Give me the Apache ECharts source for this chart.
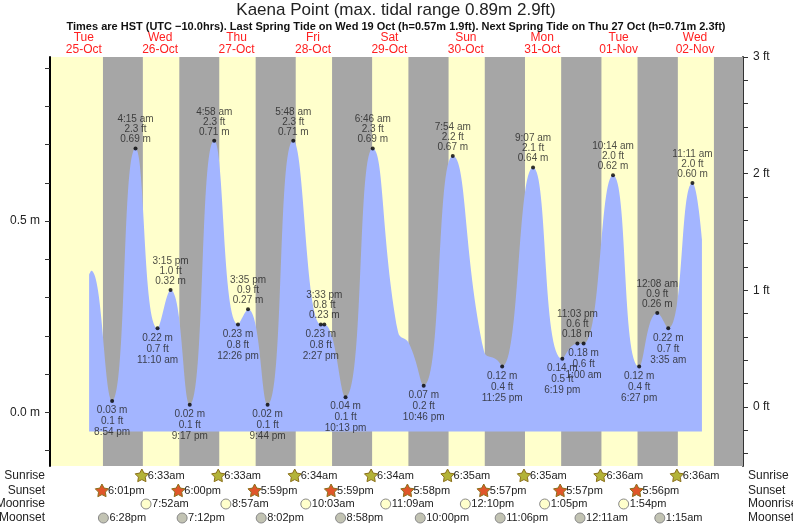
<!DOCTYPE html>
<html><head><meta charset="utf-8">
<script src="https://cdn.jsdelivr.net/npm/echarts@6/dist/echarts.min.js"></script>
<style>html,body{margin:0;padding:0;background:#fff}#c{width:793px;height:525px}</style>
</head><body><div id="c"></div>
<script>
// ---- data ----
const curveTimes = ['2022-10-25 13:40','2022-10-25 14:20','2022-10-25 20:54','2022-10-26 04:15','2022-10-26 11:10','2022-10-26 15:15','2022-10-26 21:17','2022-10-27 04:58','2022-10-27 12:26','2022-10-27 15:35','2022-10-27 21:44','2022-10-28 05:48','2022-10-28 14:27','2022-10-28 15:33','2022-10-28 22:13','2022-10-29 06:46','2022-10-29 14:43','2022-10-29 18:10','2022-10-29 22:46','2022-10-30 07:54','2022-10-30 17:43','2022-10-30 21:48','2022-10-30 23:25','2022-10-31 09:07','2022-10-31 18:19','2022-10-31 23:03','2022-11-01 01:00','2022-11-01 10:14','2022-11-01 18:27','2022-11-02 00:08','2022-11-02 03:35','2022-11-02 11:11','2022-11-02 14:10'];
const curveM = [0.36,0.37,0.03,0.69,0.22,0.32,0.02,0.71,0.23,0.27,0.02,0.71,0.23,0.23,0.04,0.69,0.21,0.18,0.07,0.67,0.16,0.137,0.12,0.64,0.14,0.18,0.18,0.62,0.12,0.26,0.22,0.60,0.453];

const highTimes = ['2022-10-26 04:15','2022-10-26 15:15','2022-10-27 04:58','2022-10-27 15:35','2022-10-28 05:48','2022-10-28 15:33','2022-10-29 06:46','2022-10-30 07:54','2022-10-31 09:07','2022-10-31 23:03','2022-11-01 10:14','2022-11-02 00:08','2022-11-02 11:11'];
const highClock = ['4:15 am','3:15 pm','4:58 am','3:35 pm','5:48 am','3:33 pm','6:46 am','7:54 am','9:07 am','11:03 pm','10:14 am','12:08 am','11:11 am'];
const highM = [0.69,0.32,0.71,0.27,0.71,0.23,0.69,0.67,0.64,0.18,0.62,0.26,0.60];
const highFt = ['2.3','1.0','2.3','0.9','2.3','0.8','2.3','2.2','2.1','0.6','2.0','0.9','2.0'];

const lowTimes = ['2022-10-25 20:54','2022-10-26 11:10','2022-10-26 21:17','2022-10-27 12:26','2022-10-27 21:44','2022-10-28 14:27','2022-10-28 22:13','2022-10-29 22:46','2022-10-30 23:25','2022-10-31 18:19','2022-11-01 01:00','2022-11-01 18:27','2022-11-02 03:35'];
const lowClock = ['8:54 pm','11:10 am','9:17 pm','12:26 pm','9:44 pm','2:27 pm','10:13 pm','10:46 pm','11:25 pm','6:19 pm','1:00 am','6:27 pm','3:35 am'];
const lowM = [0.03,0.22,0.02,0.23,0.02,0.23,0.04,0.07,0.12,0.14,0.18,0.12,0.22];
const lowFt = ['0.1','0.7','0.1','0.8','0.1','0.8','0.1','0.2','0.4','0.5','0.6','0.4','0.7'];

const dayNoon = ['2022-10-25 12:00','2022-10-26 12:00','2022-10-27 12:00','2022-10-28 12:00','2022-10-29 12:00','2022-10-30 12:00','2022-10-31 12:00','2022-11-01 12:00','2022-11-02 12:00'];
const dayLabels = ['Tue\n25-Oct','Wed\n26-Oct','Thu\n27-Oct','Fri\n28-Oct','Sat\n29-Oct','Sun\n30-Oct','Mon\n31-Oct','Tue\n01-Nov','Wed\n02-Nov'];

const sunriseTimes = ['2022-10-26 06:33','2022-10-27 06:33','2022-10-28 06:34','2022-10-29 06:34','2022-10-30 06:35','2022-10-31 06:35','2022-11-01 06:36','2022-11-02 06:36'];
const sunriseText = ['6:33am','6:33am','6:34am','6:34am','6:35am','6:35am','6:36am','6:36am'];
const sunsetTimes = ['2022-10-25 18:01','2022-10-26 18:00','2022-10-27 17:59','2022-10-28 17:59','2022-10-29 17:58','2022-10-30 17:57','2022-10-31 17:57','2022-11-01 17:56','2022-11-02 17:56'];
const sunsetText = ['6:01pm','6:00pm','5:59pm','5:59pm','5:58pm','5:57pm','5:57pm','5:56pm',''];
const moonriseTimes = ['2022-10-26 07:52','2022-10-27 08:57','2022-10-28 10:03','2022-10-29 11:09','2022-10-30 12:10','2022-10-31 13:05','2022-11-01 13:54'];
const moonriseText = ['7:52am','8:57am','10:03am','11:09am','12:10pm','1:05pm','1:54pm'];
const moonsetTimes = ['2022-10-25 18:28','2022-10-26 19:12','2022-10-27 20:02','2022-10-28 20:58','2022-10-29 22:00','2022-10-30 23:06','2022-11-01 00:11','2022-11-02 01:15'];
const moonsetText = ['6:28pm','7:12pm','8:02pm','8:58pm','10:00pm','11:06pm','12:11am','1:15am'];

const xMin = '2022-10-25 01:23', xMax = '2022-11-03 03:04';
const mTicks = [-0.1,0,0.1,0.2,0.3,0.4,0.5,0.6,0.7,0.8,0.9];
const mLabels = [0,0.5];
const ftTicks = [-0.4,-0.2,0,0.2,0.4,0.6,0.8,1,1.2,1.4,1.6,1.8,2,2.2,2.4,2.6,2.8,3];
const ftLabels = [0,1,2,3];

// ---- helpers ----
function T(s){const [d,t]=s.split(' ');const [Y,M,D]=d.split('-').map(Number);const [h,mi]=t.split(':').map(Number);return Date.UTC(Y,M-1,D,h,mi);}
const chart = echarts.init(document.getElementById('c'));
const F = '"Liberation Sans", Arial, sans-serif';

const nights = sunsetTimes.map((s,i)=>[{xAxis:T(s)},{xAxis: i<sunriseTimes.length?T(sunriseTimes[i]):T(xMax)}]);

chart.setOption({
  animation:false,
  textStyle:{fontFamily:F},
  grid:{left:50,right:50,top:57,bottom:59,show:true,backgroundColor:'#ffffcc',borderWidth:0},
  xAxis:{type:'time',min:T(xMin),max:T(xMax),axisLine:{show:false},axisTick:{show:false},axisLabel:{show:false},splitLine:{show:false}},
  yAxis:[
    {type:'value',min:-0.14,max:0.929,position:'left',
     axisLine:{show:true,lineStyle:{color:'#000',width:2}},
     axisTick:{show:true,length:5,customValues:mTicks,lineStyle:{color:'#333'}},
     axisLabel:{customValues:mLabels,formatter:v=>v.toFixed(1)+' m',fontSize:12,color:'#222',margin:10,fontFamily:F},
     splitLine:{show:false}},
    {type:'value',min:-0.507,max:3.0,position:'right',
     axisLine:{show:true,lineStyle:{color:'#333',width:2}},
     axisTick:{show:true,length:5,customValues:ftTicks,lineStyle:{color:'#333'}},
     axisLabel:{customValues:ftLabels,formatter:v=>v+' ft',fontSize:12,color:'#222',margin:10,fontFamily:F},
     splitLine:{show:false}}
  ],
  series:[
    {type:'line',data:[],z:1,markArea:{silent:true,itemStyle:{color:'#a6a6a6'},data:nights}},
    {type:'line',z:2,smooth:0.5,symbol:'none',lineStyle:{width:0},
     areaStyle:{color:'#a3b5ff',opacity:1,origin:-0.05},
     data:curveTimes.map((t,i)=>[T(t),curveM[i]])},
    {type:'scatter',z:3,symbolSize:4,itemStyle:{color:'#000'},
     label:{show:true,position:'top',distance:2,fontSize:10,lineHeight:10,color:'#222',fontFamily:F,formatter:p=>p.data[2]},
     data:highTimes.map((t,i)=>[T(t),highM[i],highClock[i]+'\n'+highFt[i]+' ft\n'+highM[i].toFixed(2)+' m'])},
    {type:'scatter',z:3,symbolSize:4,itemStyle:{color:'#000'},
     label:{show:true,position:'bottom',distance:2,fontSize:10,lineHeight:11,color:'#222',fontFamily:F,formatter:p=>p.data[2]},
     data:lowTimes.map((t,i)=>[T(t),lowM[i],lowM[i].toFixed(2)+' m\n'+lowFt[i]+' ft\n'+lowClock[i]])}
  ]
});

function starPts(cx,cy,R,r){const p=[];for(let k=0;k<10;k++){const a=-Math.PI/2+k*Math.PI/5;const rr=k%2?r:R;p.push([cx+rr*Math.cos(a),cy+rr*Math.sin(a)]);}return p;}
const g=[];
const px=t=>chart.convertToPixel({xAxisIndex:0},T(t));
g.push({type:'text',x:396,y:2,style:{text:'Kaena Point (max. tidal range 0.89m 2.9ft)',font:'17px '+F,fill:'#222',align:'center'}});
g.push({type:'text',x:396,y:21,style:{text:'Times are HST (UTC \u221210.0hrs). Last Spring Tide on Wed 19 Oct (h=0.57m 1.9ft). Next Spring Tide on Thu 27 Oct (h=0.71m 2.3ft)',font:'bold 11px '+F,fill:'#111',align:'center'}});
dayNoon.forEach((t,i)=>g.push({type:'text',x:px(t),y:32,style:{text:dayLabels[i],font:'12px '+F,lineHeight:12,fill:'#ff2020',align:'center'}}));
const rows=[['Sunrise',476],['Sunset',491],['Moonrise',504],['Moonset',518]];
rows.forEach(([n,y])=>{
  g.push({type:'text',x:45,y:y,style:{text:n,font:'12px '+F,fill:'#222',align:'right',verticalAlign:'middle'}});
  g.push({type:'text',x:748,y:y,style:{text:n,font:'12px '+F,fill:'#222',align:'left',verticalAlign:'middle'}});
});
function addRow(times,texts,y,kind){
  times.forEach((t,i)=>{const x=px(t)-1;
    if(kind==='rise'||kind==='set'){
      g.push({type:'polygon',shape:{points:starPts(x,y,7,3.6)},style:{fill:kind==='rise'?'#b3b338':'#e0562a',stroke:'#8a6f1a',lineWidth:1}});
    } else {
      g.push({type:'circle',shape:{cx:x,cy:y,r:5},style:{fill:kind==='mrise'?'#ffffcc':'#c2c3b3',stroke:'#888',lineWidth:1}});
    }
    if(texts[i]) g.push({type:'text',x:x+6,y:y,style:{text:texts[i],font:'11px '+F,fill:'#222',align:'left',verticalAlign:'middle'}});
  });
}
addRow(sunriseTimes,sunriseText,476,'rise');
addRow(sunsetTimes.slice(0,8),sunsetText,491,'set');
addRow(moonriseTimes,moonriseText,504,'mrise');
addRow(moonsetTimes,moonsetText,518,'mset');
chart.setOption({graphic:g});
</script></body></html>
